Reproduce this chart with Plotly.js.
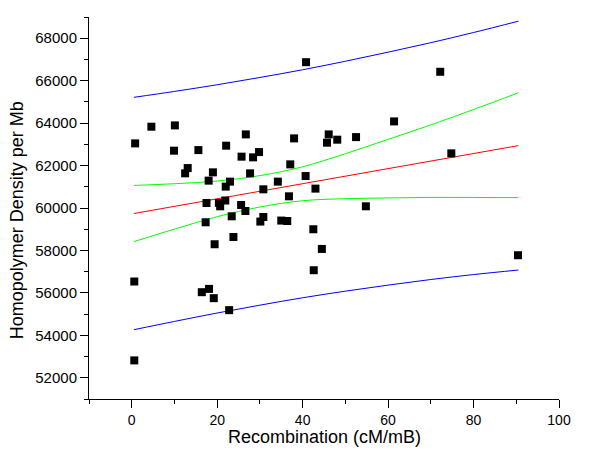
<!DOCTYPE html>
<html>
<head>
<meta charset="utf-8">
<script src="https://cdn.plot.ly/plotly-3.0.1.min.js"></script>
<style>html,body{margin:0;padding:0;background:#fff;}#chart{width:600px;height:462px;}</style>
</head>
<body>
<div id="chart"></div>
<script>
// Scatter data (Recombination cM/mB vs Homopolymer density per Mb)
var recombination = [0.8, 0.6, 0.6, 4.6, 10.1, 9.9, 13.1, 12.5, 15.6, 17.5,
  17.3, 18.0, 19.0, 16.4, 18.1, 19.2, 19.4, 20.4, 21.9, 20.7,
  22.0, 22.1, 23.0, 23.4, 23.8, 22.8, 25.6, 26.6, 25.7, 26.7,
  27.7, 28.4, 29.8, 30.1, 30.8, 30.8, 34.2, 35.0, 36.4, 36.8,
  37.1, 38.0, 40.7, 40.8, 42.5, 42.6, 43.0, 44.5, 45.7, 46.1,
  48.1, 52.5, 54.8, 61.4, 72.2, 74.8, 90.4];
var density = [63045, 56536, 52819, 63831, 63892, 62701, 61882, 61633, 62729, 60235,
  59327, 61289, 61680, 56033, 56188, 55751, 58292, 60240, 60353, 60080,
  61007, 62936, 61242, 59609, 58635, 55186, 60141, 59859, 62419, 63468,
  61633, 62386, 62635, 59360, 59576, 60880, 61242, 59407, 59388, 60551,
  62056, 63280, 61506, 66871, 58998, 57068, 60913, 58071, 63078, 63468,
  63219, 63341, 60080, 64080, 66419, 62574, 57774];

// Fit line and bands, read at sample positions
var fitX = [0.5, 90.5];
var fitY = [59740, 62940];
var bandX = [0.5, 10, 20, 30, 40, 50, 60, 70, 80, 90.5];
var confUpper = [61065, 61144, 61270, 61526, 61942, 62558, 63234, 63915, 64641, 65430];
var confLower = [58415, 59004, 59590, 60046, 60342, 60438, 60474, 60500, 60495, 60490];
var predUpper = [65215, 65493, 65808, 66150, 66514, 66915, 67343, 67789, 68269, 68803];
var predLower = [54265, 54655, 55052, 55422, 55770, 56081, 56365, 56631, 56863, 57077];

var xTitle = 'Recombination (cM/mB)';
var yTitle = 'Homopolymer Density per Mb';

function band(y, color) {
  return {x: bandX, y: y, type: 'scatter', mode: 'lines',
    line: {color: color, width: 1, shape: 'spline', smoothing: 1},
    hoverinfo: 'skip', showlegend: false};
}

var traces = [
  band(predUpper, '#0000ff'),
  band(predLower, '#0000ff'),
  band(confUpper, '#00ff00'),
  band(confLower, '#00ff00'),
  {x: fitX, y: fitY, type: 'scatter', mode: 'lines',
   line: {color: '#ff0000', width: 1}, showlegend: false},
  {x: recombination, y: density, type: 'scatter', mode: 'markers',
   marker: {symbol: 'square', size: 8, color: '#000000', line: {width: 0}},
   showlegend: false}
];

var fontFam = 'Liberation Sans, Arial, sans-serif';
var layout = {
  width: 600, height: 462,
  margin: {l: 89, r: 41, t: 17, b: 63},
  paper_bgcolor: '#ffffff', plot_bgcolor: '#ffffff',
  showlegend: false,
  font: {family: fontFam, color: '#000000'},
  xaxis: {
    range: [-10, 100], tick0: 0, dtick: 20,
    showgrid: false, zeroline: false,
    showline: true, linecolor: '#000000', linewidth: 1,
    ticks: 'outside', ticklen: 8, tickwidth: 1, tickcolor: '#000000',
    minor: {dtick: 10, tick0: 0, ticks: 'outside', ticklen: 4, tickwidth: 1, tickcolor: '#000000', showgrid: false},
    tickfont: {size: 14, family: fontFam, color: '#000000'}
  },
  yaxis: {
    range: [51000, 69000], tick0: 0, dtick: 2000, tickformat: 'd',
    showgrid: false, zeroline: false,
    showline: true, linecolor: '#000000', linewidth: 1,
    ticks: 'outside', ticklen: 8, tickwidth: 1, tickcolor: '#000000',
    minor: {dtick: 1000, tick0: 0, ticks: 'outside', ticklen: 4, tickwidth: 1, tickcolor: '#000000', showgrid: false},
    tickfont: {size: 15, family: fontFam, color: '#000000'}
  },
  annotations: [
    {text: xTitle, xref: 'paper', yref: 'paper', x: 0.5, y: -0.099,
     xanchor: 'center', yanchor: 'middle', showarrow: false,
     font: {size: 18, family: fontFam, color: '#000000'}},
    {text: yTitle, xref: 'paper', yref: 'paper', x: -0.153, y: 0.468,
     xanchor: 'center', yanchor: 'middle', textangle: -90, showarrow: false,
     font: {size: 18, family: fontFam, color: '#000000'}}
  ]
};

Plotly.newPlot('chart', traces, layout, {staticPlot: true, displayModeBar: false});
</script>
</body>
</html>
